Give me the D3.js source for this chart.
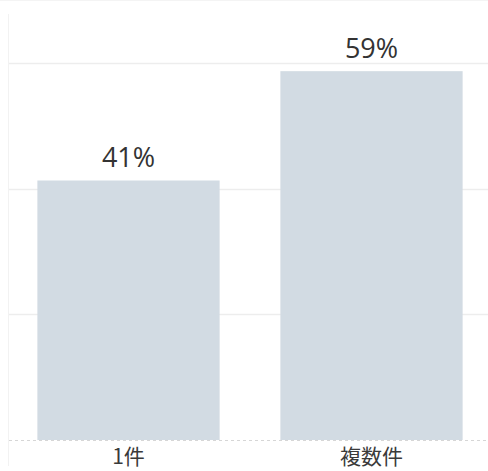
<!DOCTYPE html>
<html>
<head>
<meta charset="utf-8">
<script src="https://cdn.jsdelivr.net/npm/d3@7"></script>
<style>
  html, body { margin: 0; padding: 0; background: #fff; }
  svg { display: block; }
</style>
</head>
<body>
<div id="chart"></div>
<script>
var categories = ["1件", "複数件"];
var values = [41.3, 58.7];
var valueLabels = ["41%", "59%"];
var gridTicks = [20, 40, 60];

var W = 488, H = 471;
var baseY = 440;

var svg = d3.select("#chart")
    .append("svg")
    .attr("width", W)
    .attr("height", H);

var x = d3.scaleBand()
    .domain(categories)
    .range([7, 493])
    .paddingInner(0.25)
    .paddingOuter(0.125);

var y = d3.scaleLinear()
    .domain([0, 60])
    .range([baseY, 63]);

// faint frame lines
svg.append("line")
    .attr("x1", 0).attr("x2", W)
    .attr("y1", 0.5).attr("y2", 0.5)
    .attr("stroke", "#f4f4f4");
svg.append("line")
    .attr("x1", 8.5).attr("x2", 8.5)
    .attr("y1", 14).attr("y2", 466)
    .attr("stroke", "#f2f2f2");

// gridlines
svg.selectAll(".grid")
    .data(gridTicks)
    .enter()
    .append("line")
    .attr("class", "grid")
    .attr("x1", 9).attr("x2", W)
    .attr("y1", function(d) { return Math.round(y(d)) + 0.5; })
    .attr("y2", function(d) { return Math.round(y(d)) + 0.5; })
    .attr("stroke", "#ededed")
    .attr("stroke-width", 1.5);

// dashed baseline
svg.append("line")
    .attr("x1", 9).attr("x2", W)
    .attr("y1", baseY + 0.5).attr("y2", baseY + 0.5)
    .attr("stroke", "#d6d6d6")
    .attr("stroke-dasharray", "3,3");

// bars
svg.selectAll(".bar")
    .data(values)
    .enter()
    .append("rect")
    .attr("class", "bar")
    .attr("x", function(d, i) { return x(categories[i]); })
    .attr("width", x.bandwidth())
    .attr("y", function(d) { return y(d); })
    .attr("height", function(d) { return baseY - y(d); })
    .attr("fill", "#d2dbe3");

// value labels
svg.selectAll(".val")
    .data(values)
    .enter()
    .append("text")
    .attr("class", "val")
    .attr("x", function(d, i) { return x(categories[i]) + x.bandwidth() / 2; })
    .attr("y", function(d) { return y(d) - 13; })
    .attr("text-anchor", "middle")
    .attr("font-family", "'Segoe UI', 'Open Sans', 'Noto Sans', sans-serif")
    .attr("font-size", 27)
    .attr("fill", "#333333")
    .text(function(d, i) { return valueLabels[i]; });

// category labels
svg.selectAll(".cat")
    .data(categories)
    .enter()
    .append("text")
    .attr("class", "cat")
    .attr("x", function(d) { return x(d) + x.bandwidth() / 2; })
    .attr("y", 464)
    .attr("text-anchor", "middle")
    .attr("font-family", "'Noto Sans CJK JP', 'Noto Sans', sans-serif")
    .attr("font-size", 21)
    .attr("fill", "#3a3a3a")
    .text(function(d) { return d; });
</script>
</body>
</html>
